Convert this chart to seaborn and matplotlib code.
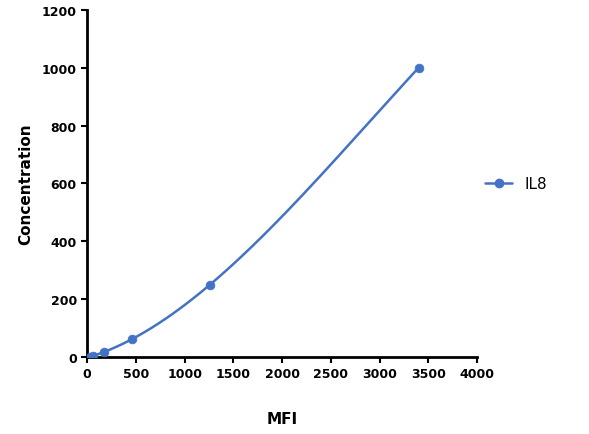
import numpy as np
import matplotlib.pyplot as plt
import seaborn as sns

sns.set_style("ticks")

mfi = [25, 60, 170, 460, 1260, 3400]
concentration = [0.98, 3.9, 15.6, 62.5, 250, 1000]
series_name = "IL8"
line_color = "#4472C4"

fig = plt.figure(figsize=(5.89, 4.35), dpi=100)
ax = fig.add_axes([0.148, 0.177, 0.662, 0.798])

# smooth curve through the standards (cubic fit, only for the line)
coef = np.polyfit(mfi, concentration, 3)
xs = np.linspace(min(mfi), max(mfi), 200)
ax.plot(xs, np.polyval(coef, xs), color=line_color, lw=1.8)
sns.scatterplot(x=mfi, y=concentration, ax=ax, color=line_color, s=40,
                edgecolor=line_color, zorder=3)
ax.plot([], [], color=line_color, marker="o", lw=1.8, ms=6, label=series_name)

ax.set_xlim(0, 4000)
ax.set_ylim(0, 1200)
ax.set_xticks(range(0, 4001, 500))
ax.set_yticks(range(0, 1201, 200))
for lab in ax.get_xticklabels() + ax.get_yticklabels():
    lab.set_fontweight("bold")
    lab.set_fontsize(9)
ax.tick_params(width=1.5, length=4, colors="black")
for s in ["left", "bottom"]:
    ax.spines[s].set_linewidth(2)
    ax.spines[s].set_color("black")
sns.despine(ax=ax)
ax.set_xlabel("MFI", fontweight="bold", fontsize=11, labelpad=22, color="black")
ax.set_ylabel("Concentration", fontweight="bold", fontsize=11, labelpad=6, color="black")
leg = ax.legend(loc="center left", bbox_to_anchor=(0.985, 0.5), frameon=False,
                fontsize=11, handlelength=1.8)
for t in leg.get_texts():
    t.set_color("black")

fig.savefig("out.png", dpi=100)
